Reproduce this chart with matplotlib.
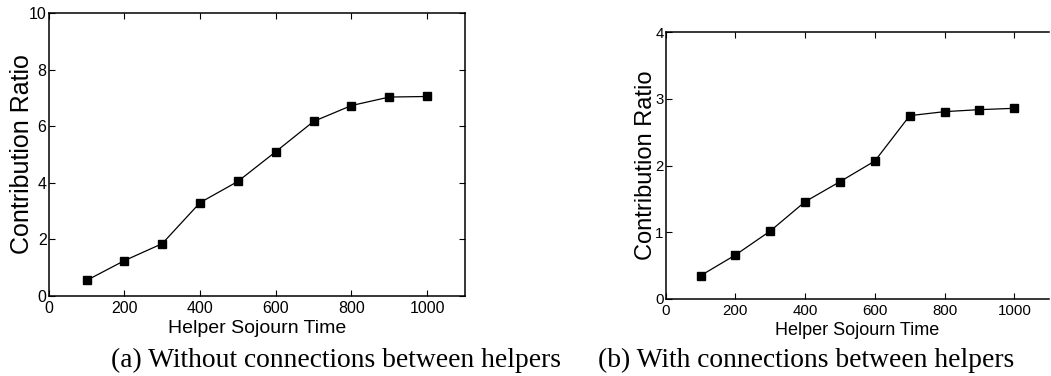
import matplotlib
matplotlib.use("Agg")
import matplotlib.pyplot as plt

# helper sojourn time (x) and contribution ratio (y) for the two cases
sojourn = [100, 200, 300, 400, 500, 600, 700, 800, 900, 1000]
ratio_no_conn = [0.55, 1.25, 1.85, 3.30, 4.05, 5.10, 6.17, 6.73, 7.03, 7.05]
ratio_conn = [0.35, 0.66, 1.02, 1.46, 1.76, 2.07, 2.75, 2.81, 2.84, 2.86]

xticks = [0, 200, 400, 600, 800, 1000]
yticks_a = [0, 2, 4, 6, 8, 10]
yticks_b = [0, 1, 2, 3, 4]
captions = ["(a) Without connections between helpers",
            "(b) With connections between helpers"]

W, H = 1051, 376
SANS = ["Liberation Sans", "DejaVu Sans"]
SERIF = ["Liberation Serif", "DejaVu Serif"]


def px_box(x0, y0, x1, y1):
    # pixel box (from top-left) -> figure fraction [l, b, w, h]
    return [x0 / W, 1 - y1 / H, (x1 - x0) / W, (y1 - y0) / H]


def draw_panel(ax, xs, ys, ylim, yticks, fs_tick, fs_xl, fs_yl, xl_coords, yl_coords):
    ax.plot(xs, ys, "-", color="black", lw=0.9,
            marker="s", ms=5.5, mfc="black", mec="black")
    ax.set_xlim(0, 1100)
    ax.set_ylim(*ylim)
    ax.set_xticks(xticks)
    ax.set_yticks(yticks)
    ax.tick_params(direction="in", length=4.5, width=0.8, top=True, right=True,
                   labelsize=fs_tick)
    ax.tick_params(axis="x", pad=3.5)
    ax.tick_params(axis="y", pad=1.5)
    for lab in ax.get_xticklabels() + ax.get_yticklabels():
        lab.set_family(SANS)
    for sp in ax.spines.values():
        sp.set_linewidth(1.1)
    ax.set_xlabel("Helper Sojourn Time", family=SANS, fontsize=fs_xl)
    ax.set_ylabel("Contribution Ratio", family=SANS, fontsize=fs_yl)
    ax.xaxis.set_label_coords(*xl_coords)
    ax.yaxis.set_label_coords(*yl_coords)


fig = plt.figure(figsize=(W / 100, H / 100), dpi=100)

ax1 = fig.add_axes(px_box(48.7, 13, 465, 296))
draw_panel(ax1, sojourn, ratio_no_conn, (0, 10), yticks_a,
           11.5, 14, 18, (0.5, -0.085), (-0.035, 0.5))

ax2 = fig.add_axes(px_box(665.7, 32.3, 1049.2, 299))
draw_panel(ax2, sojourn, ratio_conn, (0, 4), yticks_b,
           10.8, 13, 17, (0.5, -0.086), (-0.022, 0.5))
ax2.spines["right"].set_visible(False)
ax2.tick_params(right=False)

fig.text(336 / W, 1 - 367 / H, captions[0], family=SERIF, fontsize=19.8,
         ha="center", va="baseline")
fig.text(806.5 / W, 1 - 367 / H, captions[1], family=SERIF, fontsize=19.8,
         ha="center", va="baseline")

fig.savefig("out.png", dpi=100)
